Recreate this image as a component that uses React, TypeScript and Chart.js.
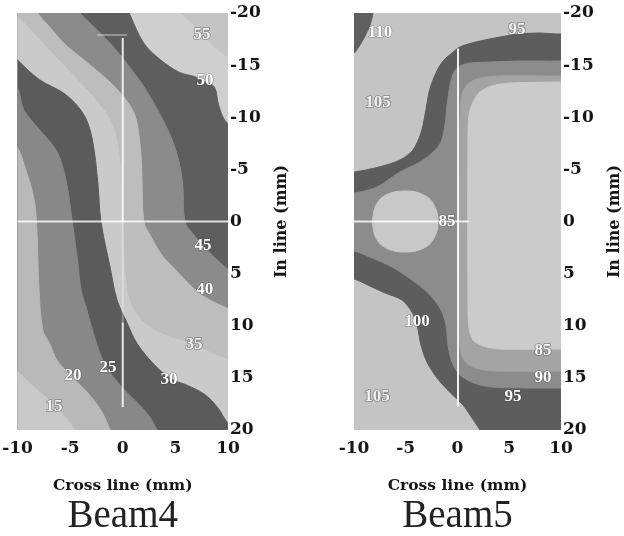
import React, { useEffect, useRef } from "react";
import { Chart, registerables } from "chart.js";

Chart.register(...registerables);

type Pt = [number, number];

// ---------- axes ----------
const X_TICKS = [-10, -5, 0, 5, 10];
const Y_TICKS = [-20, -15, -10, -5, 0, 5, 10, 15, 20];

// ---------- Beam4 : contour lines (x mm, y mm), value increases to the right ----------
const B4_LEVELS = [55, 50, 45, 40, 35, 30, 25, 20, 15];
const B4_C55: Pt[] = [[4.7, -20.8], [5.4, -20], [6.4, -19.1], [7.5, -17.9], [8.8, -16.6], [10, -15.7], [11.1, -15]];
const B4_C50: Pt[] = [[0.2, -20.8], [0.6, -20], [2.0, -17.1], [3.6, -15.5], [5.4, -14.3], [6.8, -13.9], [7.8, -13.4], [8.7, -12.9], [9.1, -11.2], [9.7, -9.7], [10.7, -8.8], [11.5, -8]];
const B4_C45: Pt[] = [[-4.6, -21], [-4.06, -20], [-2.45, -18.4], [-1.02, -16.9], [0.5, -15.0], [1.9, -13.1], [3.2, -10.9], [4.5, -8.3], [5.3, -5.9], [5.7, -3.5], [5.9, 0], [6.6, 1.1], [8.0, 2.7], [9.9, 4.5], [11.1, 5.1]];
const B4_C40: Pt[] = [[-8.4, -20.8], [-8.1, -20], [-6.9, -18.6], [-5.6, -17.1], [-3.7, -15.5], [-1.8, -13.9], [-0.2, -12.3], [1.07, -10.4], [1.6, -7.8], [1.8, -4.9], [2.0, 0], [2.6, 1.3], [3.7, 3.2], [4.8, 4.4], [6.2, 5.9], [7.3, 6.9], [8.6, 7.7], [9.9, 8.3], [11.1, 8.8]];
const B4_C35: Pt[] = [[-10.9, -20.8], [-9.6, -19.3], [-7.4, -16.9], [-4.8, -14.1], [-2.6, -11.7], [-1.0, -9.3], [-0.3, -5.9], [0, 0], [0.4, 6.6], [1.6, 9.3], [4.0, 10.9], [6.8, 11.8], [8.8, 12.8], [11.1, 13.5]];
const B4_C30: Pt[] = [[-11.2, -16.9], [-10, -15.5], [-7.9, -13.6], [-5.6, -12.3], [-4.0, -10.7], [-3.2, -9.1], [-2.7, -6.7], [-2.35, -3.5], [-2.07, 0], [-1.2, 4.4], [-0.55, 7.5], [0.4, 9.7], [1.36, 11.7], [3.25, 14.0], [4.8, 15.2], [6.1, 15.7], [7.8, 16.6], [9.05, 17.9], [9.8, 19.1], [10.7, 20.2], [11.6, 21.4]];
const B4_C25: Pt[] = [[-11.2, -14.1], [-10, -12.8], [-9.4, -10.7], [-7.9, -8.8], [-6.25, -6.7], [-5.4, -4.0], [-4.8, 0], [-4.3, 3.7], [-3.95, 6.6], [-3.4, 8.5], [-2.8, 10.7], [-1.9, 13.3], [-1.2, 14.5], [0.2, 16.2], [1.6, 17.6], [2.6, 18.8], [3.25, 20], [4.0, 21.4]];
const B4_C20: Pt[] = [[-11.2, -8.3], [-10, -7.1], [-9.2, -4.9], [-8.5, -2.5], [-8.2, 0], [-7.95, 6.6], [-7.6, 10.4], [-6.9, 11.8], [-6.25, 13.3], [-4.8, 14.9], [-3.55, 16.2], [-2.4, 17.6], [-1.7, 18.8], [-1.2, 20], [-0.55, 21.4]];
const B4_C15: Pt[] = [[-11.2, 13.3], [-10, 14.4], [-8.3, 16], [-6.5, 17.6], [-5.2, 19.1], [-4.45, 20.2], [-3.9, 21.4]];
const B4_CURVES: Pt[][] = [B4_C55, B4_C50, B4_C45, B4_C40, B4_C35, B4_C30, B4_C25, B4_C20, B4_C15];
// colour of the band just below each level
const B4_BAND_COLORS = ["#cfcfcf", "#5e5e5e", "#8b8b8b", "#bdbdbd", "#cacaca", "#5b5b5b", "#888888", "#b9b9b9", "#c9c9c9"];
const B4_TOP_COLOR = "#c4c4c4";

const B4_LABEL_TEXT = ["55", "50", "45", "40", "35", "30", "25", "20", "15"];
const B4_LABEL_X = [7.53, 7.82, 7.62, 7.8, 6.77, 4.4, -1.4, -4.73, -6.53];
const B4_LABEL_Y = [-17.89, -13.48, 2.35, 6.57, 11.85, 15.2, 14.05, 14.8, 17.79];
const B4_LABEL_FAINT = [true, false, false, false, true, false, false, false, true];

const B4_LINES: Pt[][] = [
  [[0, -17.6], [0, 0]],
  [[0, 0], [0, 9.7]],
  [[0, 9.7], [0, 17.8]],
  [[-10, 0], [10, 0]],
  [[-2.4, -17.9], [0.4, -17.9]],
];
const B4_LINE_ALPHA = [0.85, 0.3, 0.85, 0.8, 0.35];

// ---------- Beam5 : filled regions (x mm, y mm) ----------
const B5_BG = "#c4c4c4";
const B5_CORNER_110: Pt[] = [[-11.35, -21.25], [-7.97, -21.25], [-8.16, -20], [-8.45, -18.85], [-9.03, -17.6], [-9.61, -16.64], [-10, -16.16], [-11.35, -15.88]];
const B5_BELOW_100: Pt[] = [
  [11.35, -18.3], [10, -17.99], [7.97, -18.08], [6.04, -17.99], [4.11, -17.7], [2.17, -17.31], [0.72, -16.93], [0.05, -16.64],
  [-0.53, -16.16], [-1.21, -15.59], [-1.79, -14.82], [-2.37, -13.57], [-2.75, -12.42], [-3.14, -10.22], [-3.53, -8.49],
  [-4.3, -6.86], [-5.56, -5.9], [-7.58, -5.23], [-9.9, -4.75], [-11.35, -4.56],
  [-11.35, 5.52], [-10, 5.52], [-8.45, 6.2], [-7.0, 6.86], [-5.36, 7.53], [-4.4, 8.68], [-3.91, 9.93], [-3.53, 11.85],
  [-2.95, 13.48], [-1.98, 15.01], [-0.72, 16.4], [0.53, 17.6], [1.4, 18.85], [2.17, 20.0], [2.75, 21.2], [11.35, 21.2],
];
const B5_BELOW_95: Pt[] = [
  [11.35, -15.49], [10, -15.39], [6.04, -15.39], [3.14, -15.3], [1.21, -15.2], [0.24, -14.92], [-0.34, -14.34], [-0.72, -13.09],
  [-1.01, -11.17], [-1.21, -9.26], [-1.59, -7.63], [-2.46, -6.57], [-3.62, -5.71], [-5.56, -4.75], [-7.58, -3.41],
  [-8.94, -2.93], [-10, -2.73], [-11.35, -2.54],
  [-11.35, 2.73], [-10, 2.83], [-8.26, 3.5], [-6.33, 4.36], [-4.4, 5.61], [-2.85, 6.86], [-1.69, 8.3], [-1.11, 9.93],
  [-0.92, 11.85], [-0.53, 13.48], [0.24, 14.72], [1.59, 15.49], [3.33, 15.88], [7.0, 15.97], [10, 15.97], [11.35, 15.97],
];
const B5_BELOW_90: Pt[] = [
  [11.35, -14.05], [10, -13.96], [4.11, -13.96], [2.17, -13.76], [1.01, -13.19], [0.43, -12.13], [0.24, -9.74], [0.14, -2.06],
  [0.14, 7.53], [0.24, 11.85], [0.63, 13.29], [1.69, 14.05], [3.62, 14.34], [10, 14.34], [11.35, 14.34],
];
const B5_BELOW_85: Pt[] = [
  [11.35, -13.38], [10, -13.38], [5.07, -13.28], [3.33, -13.0], [2.17, -12.42], [1.5, -11.46], [1.11, -10.22], [1.01, -7.82],
  [1.01, 7.53], [1.11, 10.22], [1.5, 11.37], [2.46, 11.94], [4.11, 12.23], [10, 12.23], [11.35, 12.23],
];
const B5_LOBE_85: Pt[] = [
  [-8.26, 0.05], [-7.87, -1.58], [-6.91, -2.54], [-5.07, -2.93], [-3.24, -2.54], [-2.27, -1.58], [-1.88, 0.05],
  [-2.27, 1.58], [-3.24, 2.54], [-5.07, 2.93], [-6.91, 2.54], [-7.87, 1.58], [-8.26, 0.05],
];
const B5_REGIONS: Pt[][] = [B5_CORNER_110, B5_BELOW_100, B5_BELOW_95, B5_BELOW_90, B5_BELOW_85, B5_LOBE_85];
const B5_REGION_COLORS = ["#5f5f5f", "#5d5d5d", "#8c8c8c", "#a4a4a4", "#cbcbcb", "#c8c8c8"];

const B5_LABEL_TEXT = ["110", "95", "105", "85", "100", "85", "90", "95", "105"];
const B5_LABEL_X = [-7.49, 5.75, -7.68, -1.01, -3.91, 8.26, 8.26, 5.36, -7.78];
const B5_LABEL_Y = [-18.08, -18.37, -11.37, 0.05, 9.64, 12.42, 15.01, 16.83, 16.83];
const B5_LABEL_FAINT = [false, true, true, false, false, true, false, false, true];

const B5_LINES: Pt[][] = [
  [[0.05, -16.6], [0.05, 17.8]],
  [[-10, 0], [1.1, 0]],
];
const B5_LINE_ALPHA = [0.9, 0.8];

// ---------- helpers ----------
function closeLeft(c: Pt[]): Pt[] {
  const first = c[0];
  const last = c[c.length - 1];
  const out: Pt[] = [];
  if (first[1] <= -20) out.push([-14, -23], [first[0], -23]);
  else out.push([-14, first[1]]);
  out.push(...c);
  if (last[1] >= 20) out.push([last[0], 23]);
  else out.push([14, last[1]], [14, 23]);
  out.push([-14, 23]);
  return out;
}

function regionDs(poly: Pt[], color: string, tension = 0.35) {
  return {
    data: poly.map(([x, y]) => ({ x, y })),
    showLine: true,
    fill: "shape",
    backgroundColor: color,
    borderColor: color,
    borderWidth: 1,
    pointRadius: 0,
    pointHoverRadius: 0,
    tension,
    clip: 0,
  };
}

function lineDs(pts: Pt[], alpha: number) {
  return {
    data: pts.map(([x, y]) => ({ x, y })),
    showLine: true,
    fill: false,
    borderColor: `rgba(255,255,255,${alpha})`,
    backgroundColor: "transparent",
    borderWidth: 2,
    pointRadius: 0,
    pointHoverRadius: 0,
    tension: 0,
    clip: 0,
  };
}

const SERIF = "'DejaVu Serif', 'Liberation Serif', serif";
const TEXT = "#161616";

function makeChart(
  canvas: HTMLCanvasElement,
  cfg: {
    padLeft: number;
    axisWidth: number;
    title: string;
    bg: string;
    datasets: any[];
    lt: string[];
    lx: number[];
    ly: number[];
    lf: boolean[];
  }
) {
  const bgPlugin = {
    id: "plotBg",
    beforeDatasetsDraw(chart: any) {
      const { ctx, chartArea: a } = chart;
      ctx.save();
      ctx.fillStyle = cfg.bg;
      ctx.fillRect(a.left, a.top, a.right - a.left, a.bottom - a.top);
      ctx.restore();
    },
  };
  const labelPlugin = {
    id: "contourLabels",
    afterDatasetsDraw(chart: any) {
      const { ctx } = chart;
      const xs = chart.scales.x;
      const ys = chart.scales.y;
      ctx.save();
      ctx.font = "bold 17px 'Liberation Serif', serif";
      ctx.textAlign = "center";
      ctx.textBaseline = "middle";
      cfg.lt.forEach((t, i) => {
        const px = xs.getPixelForValue(cfg.lx[i]);
        const py = ys.getPixelForValue(cfg.ly[i]);
        ctx.lineJoin = "round";
        if (cfg.lf[i]) {
          ctx.lineWidth = 1.6;
          ctx.strokeStyle = "rgba(80,80,80,0.55)";
          ctx.strokeText(t, px, py);
          ctx.fillStyle = "#f2f2f2";
        } else {
          ctx.lineWidth = 1.2;
          ctx.strokeStyle = "rgba(50,50,50,0.45)";
          ctx.strokeText(t, px, py);
          ctx.fillStyle = "#ffffff";
        }
        ctx.fillText(t, px, py);
      });
      ctx.restore();
    },
  };
  const yTitlePlugin = {
    id: "rightTitle",
    afterDraw(chart: any) {
      const { ctx, chartArea: a } = chart;
      ctx.save();
      ctx.translate(a.right + 54, (a.top + a.bottom) / 2);
      ctx.rotate(-Math.PI / 2);
      ctx.font = `bold 16px ${SERIF}`;
      ctx.fillStyle = TEXT;
      ctx.textAlign = "center";
      ctx.textBaseline = "middle";
      ctx.fillText("In line (mm)", 0, 0);
      ctx.restore();
    },
  };

  return new Chart(canvas, {
    type: "scatter",
    data: { datasets: cfg.datasets },
    options: {
      animation: false,
      responsive: false,
      devicePixelRatio: 1,
      events: [],
      layout: { padding: { left: cfg.padLeft, top: 13, right: 0, bottom: 0 } },
      elements: { line: { capBezierPoints: false } },
      plugins: {
        legend: { display: false },
        tooltip: { enabled: false },
        title: {
          display: true,
          text: cfg.title,
          position: "bottom",
          fullSize: false,
          color: "#222",
          padding: 0,
          font: { family: "'Liberation Serif', serif", size: 39, weight: "normal", lineHeight: 1 },
        },
      },
      scales: {
        x: {
          type: "linear",
          min: -10,
          max: 10,
          position: "bottom",
          afterBuildTicks: (s: any) => {
            s.ticks = X_TICKS.map((v) => ({ value: v }));
          },
          afterFit: (s: any) => {
            s.height = 67;
            s.paddingLeft = 0;
            s.paddingRight = 0;
          },
          grid: { display: false, drawTicks: false },
          border: { display: false },
          ticks: {
            autoSkip: false,
            maxRotation: 0,
            padding: 8,
            color: TEXT,
            font: { family: SERIF, size: 17, weight: "bold" },
            callback: (v: any) => String(v),
          },
          title: {
            display: true,
            text: "Cross line (mm)",
            color: TEXT,
            padding: { top: 0, bottom: 1.4 },
            font: { family: SERIF, size: 15.5, weight: "bold" },
          },
        },
        y: {
          type: "linear",
          min: -20,
          max: 20,
          reverse: true,
          position: "right",
          afterBuildTicks: (s: any) => {
            s.ticks = Y_TICKS.map((v) => ({ value: v }));
          },
          afterFit: (s: any) => {
            s.width = cfg.axisWidth;
            s.paddingTop = 0;
            s.paddingBottom = 0;
          },
          grid: { display: false, drawTicks: false },
          border: { display: false },
          ticks: {
            autoSkip: false,
            padding: 2,
            color: TEXT,
            font: { family: SERIF, size: 17, weight: "bold" },
            callback: (v: any) => String(v),
          },
        },
      },
    } as any,
    plugins: [bgPlugin, labelPlugin, yTitlePlugin],
  } as any);
}

function beam4Datasets() {
  const painter: any[] = [];
  B4_CURVES.forEach((c, i) => painter.push(regionDs(closeLeft(c), B4_BAND_COLORS[i])));
  B4_LINES.forEach((l, i) => painter.push(lineDs(l, B4_LINE_ALPHA[i])));
  return painter.reverse(); // dataset 0 is drawn on top
}

function beam5Datasets() {
  const painter: any[] = [];
  B5_REGIONS.forEach((r, i) => painter.push(regionDs(r, B5_REGION_COLORS[i], i === 5 ? 0.4 : 0.3)));
  B5_LINES.forEach((l, i) => painter.push(lineDs(l, B5_LINE_ALPHA[i])));
  return painter.reverse();
}

function Panel(props: { left: number; which: 4 | 5 }) {
  const ref = useRef<HTMLCanvasElement>(null);
  useEffect(() => {
    if (!ref.current) return;
    const chart =
      props.which === 4
        ? makeChart(ref.current, {
            padLeft: 17.5,
            axisWidth: 84,
            title: "Beam4",
            bg: B4_TOP_COLOR,
            datasets: beam4Datasets(),
            lt: B4_LABEL_TEXT,
            lx: B4_LABEL_X,
            ly: B4_LABEL_Y,
            lf: B4_LABEL_FAINT,
          })
        : makeChart(ref.current, {
            padLeft: 42,
            axisWidth: 63,
            title: "Beam5",
            bg: B5_BG,
            datasets: beam5Datasets(),
            lt: B5_LABEL_TEXT,
            lx: B5_LABEL_X,
            ly: B5_LABEL_Y,
            lf: B5_LABEL_FAINT,
          });
    return () => chart.destroy();
  }, [props.which]);
  return (
    <canvas
      ref={ref}
      width={312}
      height={536}
      style={{ position: "absolute", left: props.left, top: 0, width: 312, height: 536, display: "block" }}
    />
  );
}

export default function App() {
  return (
    <div style={{ position: "absolute", left: 0, top: 0, width: 624, height: 536, background: "#ffffff" }}>
      <Panel left={0} which={4} />
      <Panel left={312} which={5} />
    </div>
  );
}
